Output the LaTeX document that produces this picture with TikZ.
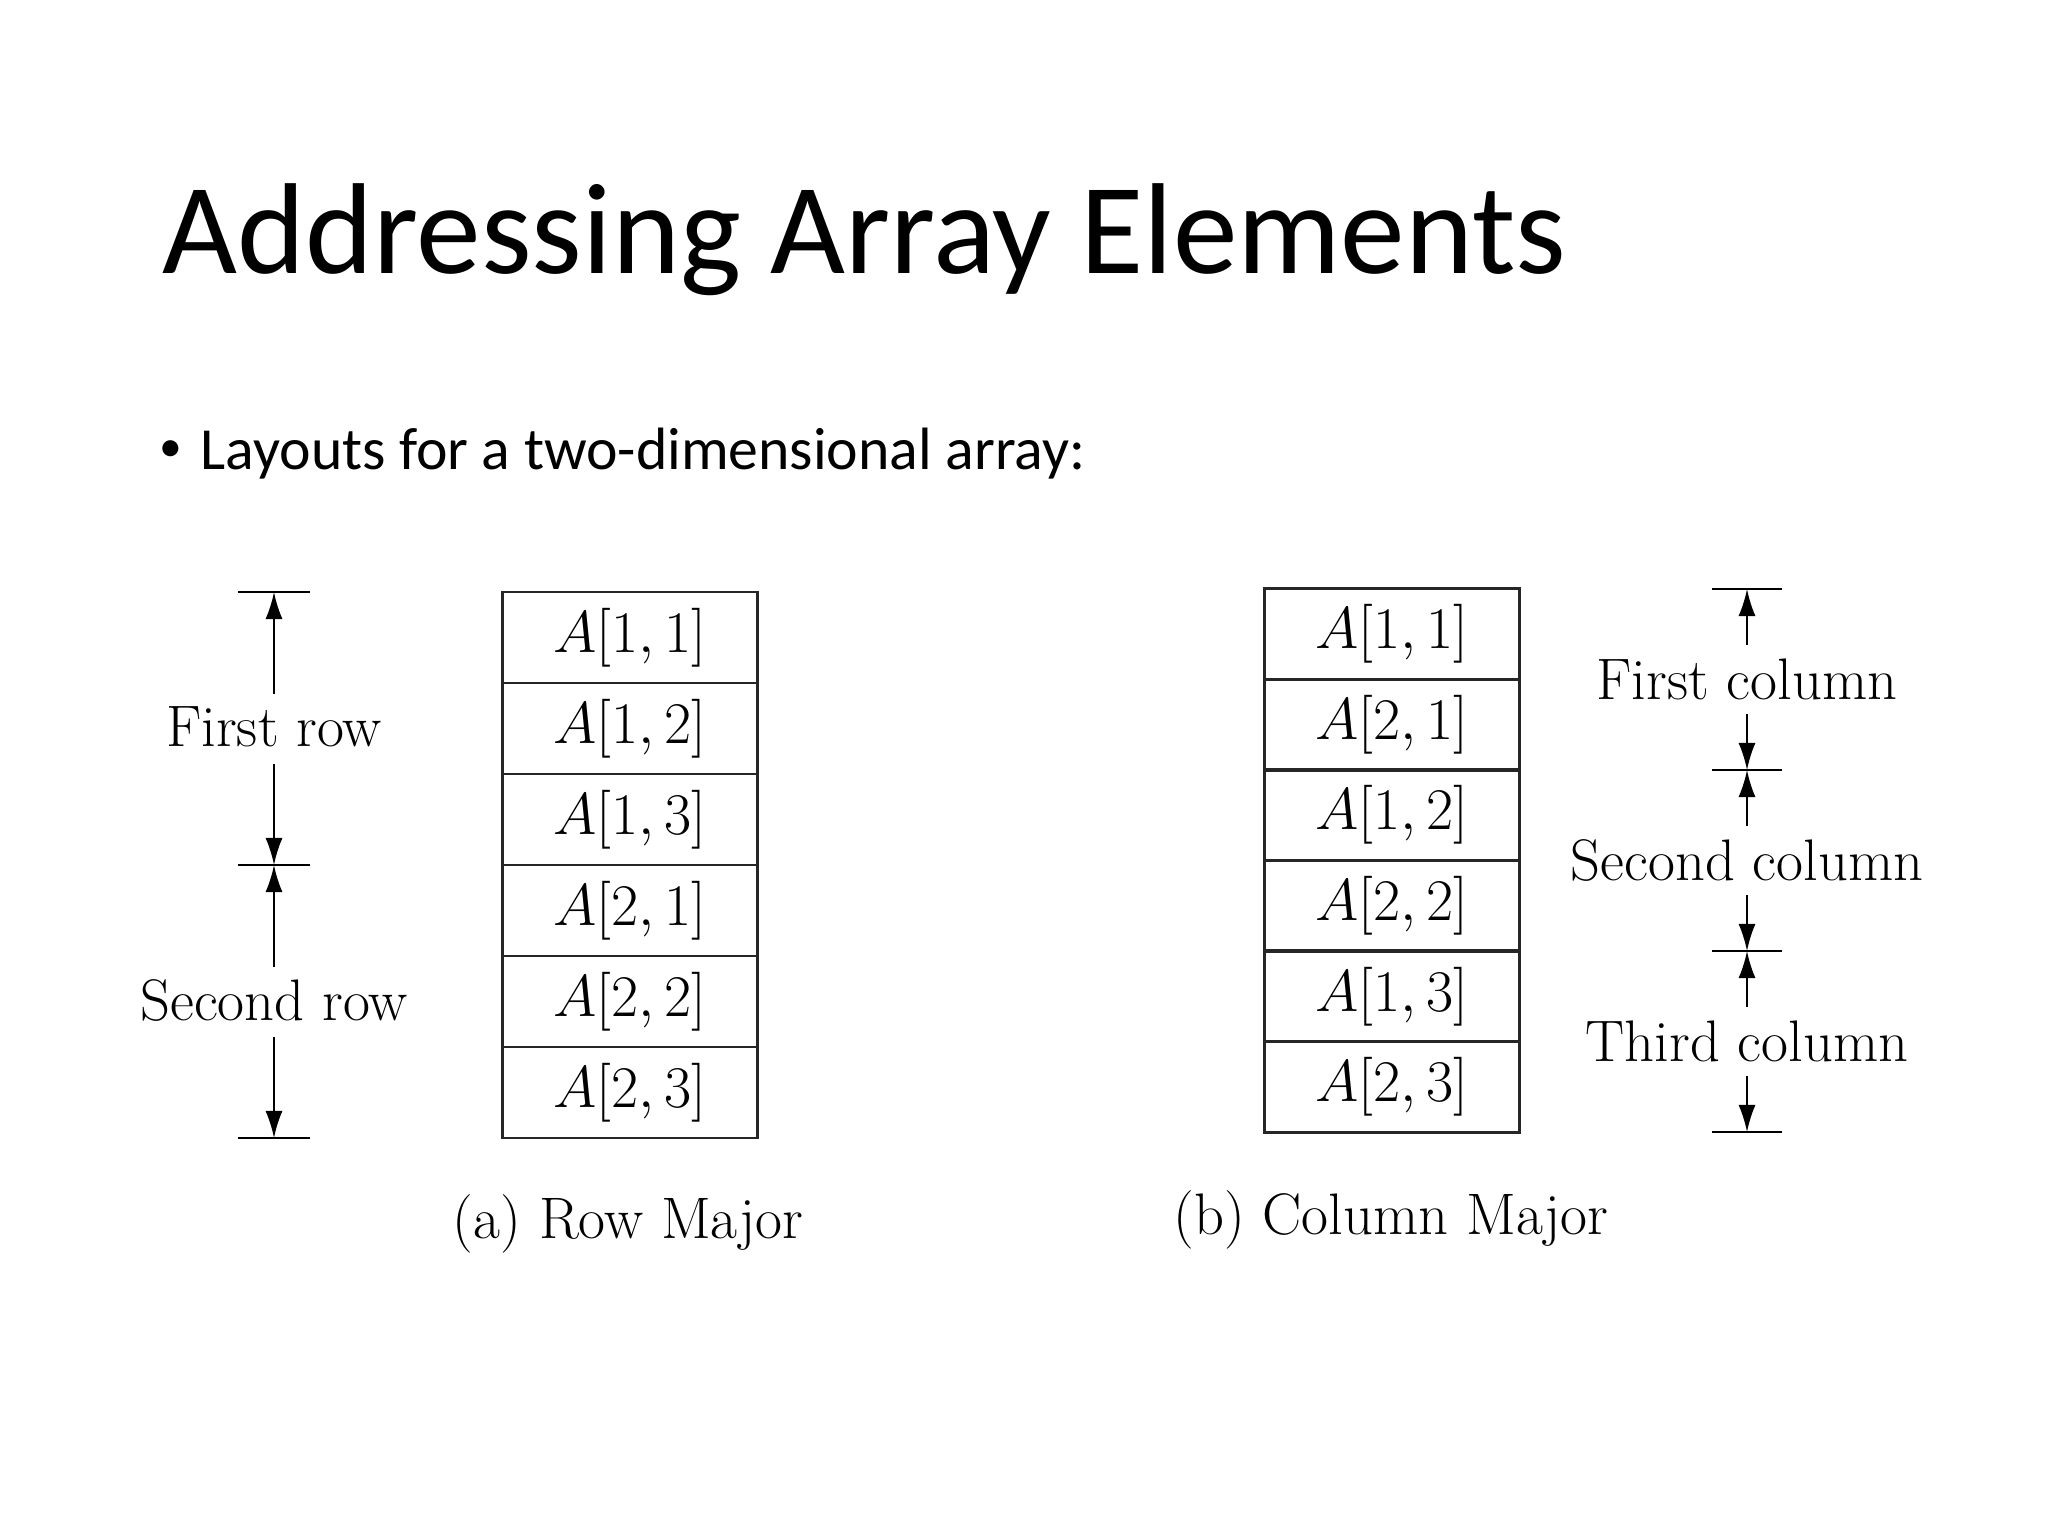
\documentclass[tikz,border=0pt]{standalone}
\usepackage{fontspec}
\newfontfamily\carlito{Carlito}
\usetikzlibrary{arrows.meta,calc}
\begin{document}
\begin{tikzpicture}[x=0.3515625pt,y=-0.3515625pt,
  cell/.style={draw=black!85,line width=0.9pt,minimum width=89.5pt,minimum height=32pt,inner sep=0pt,outer sep=0pt,font=\fontsize{21.5}{25}\selectfont},
  lbl/.style={font=\fontsize{20.6}{24}\selectfont,inner sep=0pt},
  dim/.style={line width=0.7pt,-{Latex[length=9.5pt,width=6pt]}},
  tickline/.style={line width=0.8pt}]
\useasboundingbox[fill=white] (0,0) rectangle (2048,1536);
% title and bullet
\node[anchor=base west,font=\carlito\fontsize{45.5}{54}\selectfont,inner sep=0pt] (title) at (162,274) {Addressing Array Elements};
\node[anchor=base,font=\carlito\fontsize{16}{20}\selectfont,inner sep=0pt] (dot) at (171,462) {•};
\node[anchor=base west,font=\carlito\fontsize{21}{25}\selectfont,inner sep=0pt] (bullet) at (200,470) {Layouts for a two-dimensional array:};
% row major cells
\node[cell] (l1) at (630,637.5) {$A[1,1]$};
\node[cell] (l2) at (630,728.5) {$A[1,2]$};
\node[cell] (l3) at (630,819.5) {$A[1,3]$};
\node[cell] (l4) at (630,910.5) {$A[2,1]$};
\node[cell] (l5) at (630,1001.5) {$A[2,2]$};
\node[cell] (l6) at (630,1092.5) {$A[2,3]$};
% column major cells
\node[cell] (r1) at (1392,634.25) {$A[1,1]$};
\node[cell] (r2) at (1392,724.75) {$A[2,1]$};
\node[cell] (r3) at (1392,815.25) {$A[1,2]$};
\node[cell] (r4) at (1392,905.75) {$A[2,2]$};
\node[cell] (r5) at (1392,996.25) {$A[1,3]$};
\node[cell] (r6) at (1392,1086.75) {$A[2,3]$};
% left dimension
\coordinate (lt1) at (274,592);
\coordinate (lt2) at (274,865);
\coordinate (lt3) at (274,1138);
\foreach \t in {lt1,lt2,lt3}{\draw[tickline] ($(\t)+(-36,0)$) -- ($(\t)+(36,0)$);}
\node[lbl] (fr) at (274,727) {First row};
\node[lbl] (sr) at (274,1000) {Second row};
\coordinate (la1) at (274,694);
\coordinate (la2) at (274,764);
\coordinate (la3) at (274,967);
\coordinate (la4) at (274,1037);
\draw[dim] (la1) -- (lt1);
\draw[dim] (la2) -- (lt2);
\draw[dim] (la3) -- (lt2);
\draw[dim] (la4) -- (lt3);
% right dimension
\coordinate (rt1) at (1747,589);
\coordinate (rt2) at (1747,770);
\coordinate (rt3) at (1747,951);
\coordinate (rt4) at (1747,1132);
\foreach \t in {rt1,rt2,rt3,rt4}{\draw[tickline] ($(\t)+(-35,0)$) -- ($(\t)+(35,0)$);}
\node[lbl] (fc) at (1747,679) {First column};
\node[lbl] (sc) at (1747,860) {Second column};
\node[lbl] (tc) at (1747,1041) {Third column};
\coordinate (ra1) at (1747,645);
\coordinate (ra2) at (1747,714);
\coordinate (ra3) at (1747,826);
\coordinate (ra4) at (1747,895);
\coordinate (ra5) at (1747,1007);
\coordinate (ra6) at (1747,1076);
\draw[dim] (ra1) -- (rt1);
\draw[dim] (ra2) -- (rt2);
\draw[dim] (ra3) -- (rt2);
\draw[dim] (ra4) -- (rt3);
\draw[dim] (ra5) -- (rt3);
\draw[dim] (ra6) -- (rt4);
% captions
\node[lbl] (capa) at (628,1224) {(a) Row Major};
\node[lbl] (capb) at (1391,1220) {(b) Column Major};
\end{tikzpicture}
\end{document}
